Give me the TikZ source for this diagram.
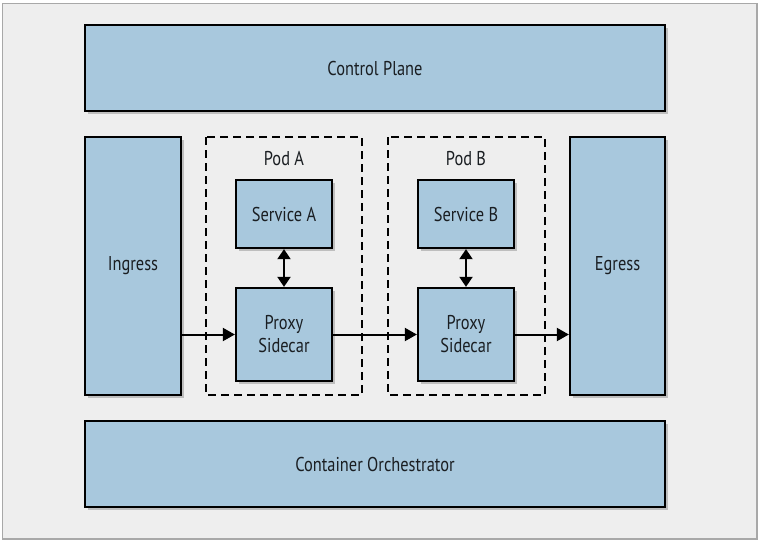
\documentclass[tikz,border=0pt]{standalone}
\usepackage{fontspec}
\setmainfont[FakeStretch=0.82]{PT Sans}
\usetikzlibrary{arrows.meta,shadows}
\definecolor{boxfill}{HTML}{A8C8DD}
\definecolor{pagebg}{HTML}{EEEEEE}
\definecolor{framegray}{HTML}{A8A8A8}
\definecolor{inktext}{HTML}{1A1E22}
\begin{document}
\begin{tikzpicture}[x=1pt,y=-1pt,
  block/.style={draw=black,line width=2.3pt,fill=boxfill,
    drop shadow={shadow xshift=2.5pt,shadow yshift=-2.5pt,opacity=0.35,fill=black!60},
    text=inktext,font=\fontsize{20}{23}\selectfont,align=center},
  pod/.style={draw=black,line width=2.2pt,dash pattern=on 8pt off 5pt},
  podlabel/.style={text=inktext,font=\fontsize{20}{23}\selectfont},
  flow/.style={line width=2pt,-{Triangle[length=12pt,width=13pt]}},
  link/.style={line width=2pt,{Triangle[length=10pt,width=13pt]}-{Triangle[length=10pt,width=13pt]}}]
  % page and frame
  \useasboundingbox (0,0) rectangle (760,542);
  \fill[white] (0,0) rectangle (760,542);
  \draw[framegray,fill=pagebg,line width=1.5pt] (2.5,3.5) rectangle (757,539);
  % pods
  \draw[pod] (206,137) rectangle (362,395);
  \draw[pod] (388,137) rectangle (545,395);
  \node[podlabel] (podA) at (284,159) {Pod A};
  \node[podlabel] (podB) at (466,159) {Pod B};
  % blocks
  \node[block,minimum width=580pt,minimum height=86pt] (cp) at (375,68) {Control Plane};
  \node[block,minimum width=96pt,minimum height=258pt] (ing) at (133,266) {Ingress};
  \node[block,minimum width=95pt,minimum height=258pt] (egr) at (617.5,266) {Egress};
  \node[block,minimum width=96pt,minimum height=68pt] (svcA) at (284,214) {Service A};
  \node[block,minimum width=96pt,minimum height=93pt] (pxA) at (284,334.5) {Proxy\\Sidecar};
  \node[block,minimum width=96pt,minimum height=68pt] (svcB) at (466,214) {Service B};
  \node[block,minimum width=96pt,minimum height=93pt] (pxB) at (466,334.5) {Proxy\\Sidecar};
  \node[block,minimum width=580pt,minimum height=86pt] (co) at (375,464) {Container Orchestrator};
  % connectors
  \draw[flow] (ing.east |- pxA) -- (pxA.west);
  \draw[flow] (pxA.east) -- (pxB.west);
  \draw[flow] (pxB.east) -- (egr.west |- pxB);
  \draw[link] (svcA.south) -- (pxA.north);
  \draw[link] (svcB.south) -- (pxB.north);
\end{tikzpicture}
\end{document}
